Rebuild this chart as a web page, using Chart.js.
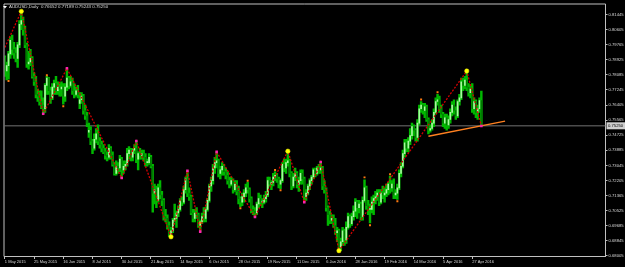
<!DOCTYPE html>
<html>
<head>
<meta charset="utf-8">
<script src="https://cdn.jsdelivr.net/npm/chart.js@4.4.0/dist/chart.umd.min.js"></script>
<style>
  html, body { margin: 0; padding: 0; background: #000; }
  canvas { display: block; }
</style>
</head>
<body>
<canvas id="myChart" width="625" height="267"></canvas>
<script>
// AUDUSD daily bars, 1 May 2015 .. 4 May 2016
var opens = [
  0.7905,0.7830,0.7860,0.7925,0.8000,0.7950,0.7930,0.7900,0.7975,0.8090,
  0.8110,0.8060,0.7975,0.7870,0.7880,0.7900,0.7800,0.7770,0.7700,0.7690,
  0.7660,0.7640,0.7620,0.7750,0.7790,0.7720,0.7680,0.7740,0.7760,0.7720,
  0.7740,0.7730,0.7740,0.7690,0.7740,0.7790,0.7750,0.7770,0.7720,0.7700,
  0.7720,0.7650,0.7670,0.7690,0.7610,0.7580,0.7490,0.7500,0.7440,0.7400,
  0.7450,0.7480,0.7440,0.7420,0.7400,0.7380,0.7360,0.7350,0.7400,0.7360,
  0.7310,0.7260,0.7300,0.7290,0.7340,0.7280,0.7300,0.7310,0.7370,0.7390,
  0.7350,0.7390,0.7400,0.7340,0.7370,0.7360,0.7370,0.7350,0.7320,0.7320,
  0.7350,0.7300,0.7150,0.7170,0.7110,0.7180,0.7140,0.7110,0.7020,0.7010,
  0.6970,0.6920,0.6940,0.7000,0.7010,0.7040,0.7060,0.7110,0.7100,0.7170,
  0.7230,0.7150,0.7130,0.7040,0.7010,0.7040,0.7030,0.6970,0.6990,0.7020,
  0.7010,0.7060,0.7110,0.7190,0.7220,0.7290,0.7320,0.7330,0.7260,0.7280,
  0.7300,0.7270,0.7250,0.7220,0.7200,0.7220,0.7170,0.7200,0.7160,0.7120,
  0.7100,0.7130,0.7150,0.7180,0.7170,0.7120,0.7060,0.7050,0.7040,0.7090,
  0.7120,0.7100,0.7100,0.7120,0.7140,0.7220,0.7200,0.7210,0.7240,0.7250,
  0.7230,0.7200,0.7220,0.7310,0.7290,0.7320,0.7330,0.7260,0.7190,0.7240,
  0.7260,0.7200,0.7220,0.7260,0.7230,0.7130,0.7150,0.7190,0.7220,0.7240,
  0.7280,0.7260,0.7290,0.7280,0.7290,0.7190,0.7170,0.7070,0.7030,0.7000,
  0.7010,0.6970,0.6930,0.6940,0.6850,0.6880,0.6940,0.6890,0.6960,0.7020,
  0.6980,0.7020,0.7050,0.7100,0.7070,0.7090,0.7020,0.7110,0.7180,0.7080,
  0.7060,0.7060,0.7100,0.7120,0.7130,0.7150,0.7100,0.7150,0.7140,0.7150,
  0.7170,0.7200,0.7180,0.7200,0.7140,0.7150,0.7180,0.7260,0.7300,0.7370,
  0.7430,0.7400,0.7440,0.7470,0.7520,0.7500,0.7460,0.7540,0.7620,0.7640,
  0.7610,0.7630,0.7560,0.7500,0.7510,0.7540,0.7600,0.7660,0.7670,0.7620,
  0.7590,0.7540,0.7570,0.7530,0.7560,0.7600,0.7640,0.7610,0.7580,0.7660,
  0.7680,0.7770,0.7750,0.7780,0.7740,0.7710,0.7730,0.7620,0.7660,0.7600,
  0.7620,0.76652
];
var highs = [
  0.7915,0.7880,0.7940,0.8020,0.8030,0.7990,0.7960,0.7990,0.8110,0.8162,
  0.8130,0.8080,0.7985,0.7940,0.7950,0.7910,0.7820,0.7800,0.7730,0.7720,
  0.7720,0.7680,0.7760,0.7800,0.7795,0.7740,0.7760,0.7780,0.7800,0.7770,
  0.7760,0.7770,0.7760,0.7760,0.7845,0.7800,0.7800,0.7790,0.7760,0.7740,
  0.7750,0.7710,0.7710,0.7700,0.7640,0.7600,0.7540,0.7520,0.7450,0.7480,
  0.7510,0.7530,0.7460,0.7440,0.7420,0.7400,0.7380,0.7420,0.7410,0.7380,
  0.7320,0.7330,0.7320,0.7360,0.7350,0.7330,0.7330,0.7400,0.7410,0.7400,
  0.7400,0.7420,0.7440,0.7380,0.7400,0.7390,0.7390,0.7370,0.7340,0.7370,
  0.7360,0.7310,0.7200,0.7190,0.7200,0.7220,0.7160,0.7120,0.7060,0.7030,
  0.6990,0.6960,0.7010,0.7090,0.7050,0.7080,0.7120,0.7130,0.7190,0.7240,
  0.7275,0.7180,0.7140,0.7060,0.7060,0.7070,0.7040,0.7000,0.7040,0.7070,
  0.7070,0.7120,0.7200,0.7240,0.7310,0.7350,0.7380,0.7340,0.7300,0.7320,
  0.7310,0.7290,0.7270,0.7240,0.7240,0.7230,0.7220,0.7220,0.7190,0.7130,
  0.7150,0.7170,0.7200,0.7210,0.7180,0.7130,0.7080,0.7070,0.7100,0.7150,
  0.7140,0.7120,0.7140,0.7160,0.7240,0.7240,0.7220,0.7260,0.7270,0.7260,
  0.7240,0.7230,0.7320,0.7340,0.7340,0.7384,0.7340,0.7270,0.7260,0.7290,
  0.7270,0.7240,0.7280,0.7280,0.7240,0.7170,0.7200,0.7230,0.7250,0.7290,
  0.7290,0.7300,0.7310,0.7323,0.7300,0.7220,0.7180,0.7080,0.7050,0.7030,
  0.7030,0.7010,0.6960,0.6950,0.6900,0.6960,0.6950,0.6990,0.7040,0.7030,
  0.7040,0.7080,0.7120,0.7110,0.7110,0.7100,0.7130,0.7225,0.7190,0.7110,
  0.7090,0.7130,0.7140,0.7160,0.7170,0.7170,0.7170,0.7190,0.7180,0.7200,
  0.7210,0.7245,0.7220,0.7230,0.7170,0.7200,0.7280,0.7320,0.7390,0.7450,
  0.7450,0.7460,0.7510,0.7540,0.7530,0.7510,0.7560,0.7640,0.7660,0.7650,
  0.7650,0.7640,0.7570,0.7530,0.7560,0.7620,0.7680,0.7700,0.7690,0.7640,
  0.7600,0.7590,0.7590,0.7580,0.7620,0.7660,0.7670,0.7630,0.7670,0.7700,
  0.7790,0.7790,0.7800,0.7830,0.7760,0.7750,0.7760,0.7680,0.7670,0.7640,
  0.7680,0.77189
];
var lows = [
  0.7800,0.7780,0.7785,0.7900,0.7920,0.7900,0.7880,0.7850,0.7960,0.8060,
  0.8030,0.7960,0.7850,0.7840,0.7860,0.7790,0.7750,0.7680,0.7660,0.7640,
  0.7620,0.7592,0.7600,0.7700,0.7700,0.7650,0.7670,0.7700,0.7700,0.7700,
  0.7690,0.7690,0.7645,0.7660,0.7720,0.7730,0.7740,0.7700,0.7680,0.7690,
  0.7680,0.7620,0.7650,0.7590,0.7560,0.7520,0.7460,0.7420,0.7370,0.7390,
  0.7430,0.7420,0.7400,0.7380,0.7370,0.7340,0.7330,0.7340,0.7340,0.7300,
  0.7250,0.7250,0.7260,0.7270,0.7234,0.7260,0.7280,0.7300,0.7340,0.7330,
  0.7330,0.7370,0.7320,0.7280,0.7340,0.7340,0.7330,0.7300,0.7300,0.7310,
  0.7290,0.7044,0.7090,0.7070,0.7100,0.7120,0.7080,0.7000,0.6990,0.6950,
  0.6910,0.6907,0.6930,0.6990,0.6960,0.7020,0.7050,0.7080,0.7090,0.7150,
  0.7130,0.7110,0.7030,0.6990,0.6990,0.7010,0.6960,0.6936,0.6980,0.6990,
  0.6990,0.7050,0.7100,0.7160,0.7200,0.7260,0.7290,0.7240,0.7230,0.7250,
  0.7250,0.7230,0.7200,0.7180,0.7190,0.7150,0.7160,0.7140,0.7090,0.7075,
  0.7080,0.7100,0.7130,0.7150,0.7100,0.7040,0.7030,0.7018,0.7030,0.7070,
  0.7080,0.7070,0.7090,0.7100,0.7130,0.7190,0.7170,0.7190,0.7220,0.7210,
  0.7180,0.7175,0.7210,0.7270,0.7260,0.7300,0.7240,0.7170,0.7180,0.7220,
  0.7180,0.7160,0.7200,0.7200,0.7100,0.7110,0.7140,0.7170,0.7200,0.7230,
  0.7240,0.7250,0.7260,0.7260,0.7170,0.7150,0.7050,0.6970,0.6980,0.6980,
  0.6960,0.6920,0.6880,0.6830,0.6830,0.6860,0.6860,0.6870,0.6950,0.6960,
  0.6970,0.7000,0.7020,0.7010,0.7040,0.7000,0.7000,0.7100,0.7060,0.7030,
  0.6985,0.7040,0.7030,0.7090,0.7110,0.7080,0.7090,0.7120,0.7100,0.7130,
  0.7140,0.7150,0.7160,0.7120,0.7120,0.7115,0.7170,0.7240,0.7290,0.7350,
  0.7380,0.7380,0.7420,0.7450,0.7470,0.7440,0.7440,0.7530,0.7600,0.7590,
  0.7570,0.7550,0.7480,0.7490,0.7500,0.7520,0.7590,0.7640,0.7600,0.7570,
  0.7520,0.7510,0.7500,0.7510,0.7540,0.7580,0.7590,0.7560,0.7570,0.7640,
  0.7670,0.7720,0.7730,0.7720,0.7690,0.7680,0.7600,0.7590,0.7570,0.7560,
  0.7600,0.75243
];
var closes = [
  0.7830,0.7860,0.7925,0.8000,0.7950,0.7930,0.7900,0.7975,0.8090,0.8110,
  0.8060,0.7975,0.7870,0.7880,0.7900,0.7800,0.7770,0.7700,0.7690,0.7660,
  0.7640,0.7620,0.7750,0.7790,0.7720,0.7680,0.7740,0.7760,0.7720,0.7740,
  0.7730,0.7740,0.7690,0.7740,0.7790,0.7750,0.7770,0.7720,0.7700,0.7720,
  0.7700,0.7670,0.7690,0.7610,0.7580,0.7540,0.7500,0.7440,0.7400,0.7450,
  0.7480,0.7440,0.7420,0.7400,0.7380,0.7360,0.7350,0.7400,0.7360,0.7310,
  0.7260,0.7300,0.7290,0.7340,0.7280,0.7300,0.7310,0.7370,0.7390,0.7350,
  0.7390,0.7400,0.7340,0.7370,0.7360,0.7370,0.7350,0.7320,0.7320,0.7350,
  0.7300,0.7150,0.7170,0.7110,0.7180,0.7140,0.7110,0.7020,0.7010,0.6970,
  0.6920,0.6940,0.7000,0.7010,0.7040,0.7060,0.7110,0.7100,0.7170,0.7230,
  0.7150,0.7130,0.7040,0.7010,0.7040,0.7030,0.6970,0.6990,0.7020,0.7010,
  0.7060,0.7110,0.7190,0.7220,0.7290,0.7320,0.7330,0.7260,0.7280,0.7300,
  0.7270,0.7250,0.7220,0.7200,0.7220,0.7170,0.7200,0.7160,0.7120,0.7100,
  0.7130,0.7150,0.7180,0.7170,0.7120,0.7060,0.7050,0.7040,0.7090,0.7120,
  0.7100,0.7100,0.7120,0.7140,0.7220,0.7200,0.7210,0.7240,0.7250,0.7230,
  0.7200,0.7220,0.7310,0.7290,0.7320,0.7330,0.7260,0.7190,0.7240,0.7260,
  0.7200,0.7220,0.7260,0.7230,0.7130,0.7150,0.7190,0.7220,0.7240,0.7280,
  0.7260,0.7290,0.7280,0.7290,0.7190,0.7170,0.7070,0.7030,0.7000,0.7010,
  0.6970,0.6930,0.6940,0.6850,0.6880,0.6940,0.6890,0.6960,0.7020,0.6980,
  0.7020,0.7050,0.7100,0.7070,0.7090,0.7020,0.7110,0.7180,0.7080,0.7060,
  0.7060,0.7100,0.7120,0.7130,0.7150,0.7100,0.7150,0.7140,0.7150,0.7170,
  0.7200,0.7180,0.7200,0.7140,0.7150,0.7180,0.7260,0.7300,0.7370,0.7430,
  0.7400,0.7440,0.7470,0.7520,0.7500,0.7460,0.7540,0.7620,0.7640,0.7610,
  0.7630,0.7560,0.7500,0.7510,0.7540,0.7600,0.7660,0.7670,0.7620,0.7590,
  0.7540,0.7570,0.7530,0.7560,0.7600,0.7640,0.7610,0.7580,0.7660,0.7680,
  0.7770,0.7750,0.7780,0.7740,0.7710,0.7730,0.7620,0.7660,0.7600,0.7620,
  0.7665,0.75250
];

// zigzag swing points (bar index, price)
var zzIdx   = [0, 9, 21, 34, 64, 72, 91, 100, 107, 116, 137, 155, 164, 173, 183, 253, 261];
var zzPrice = [0.7961, 0.8162, 0.7592, 0.7845, 0.7234, 0.7440, 0.6907, 0.7275, 0.6936, 0.7380, 0.7018, 0.7384, 0.7100, 0.7323, 0.6830, 0.7830, 0.75243];
// big yellow swing dots
var majorIdx   = [9, 91, 155, 183, 253];
var majorPrice = [0.8162, 0.6907, 0.7384, 0.6830, 0.7830];
// small magenta swing marks
var minorIdx   = [21, 34, 64, 72, 100, 107, 116, 137, 164, 173, 261];
var minorPrice = [0.7592, 0.7845, 0.7234, 0.7440, 0.7275, 0.6936, 0.7380, 0.7018, 0.7100, 0.7323, 0.75243];
// orange fractal marks
var fracIdx   = [2, 23, 32, 107, 129, 133, 148, 151, 197, 200, 211, 215, 228, 237];
var fracPrice = [0.7774, 0.7806, 0.7634, 0.6986, 0.7066, 0.7219, 0.7279, 0.7166, 0.7238, 0.6972, 0.7256, 0.7105, 0.7671, 0.7712];
// orange trend line
var trendIdx   = [232, 274];
var trendPrice = [0.7467, 0.7551];

var bidPrice = 0.75250;
var headerText = 'AUDUSD,Daily  0.76652 0.77189 0.75243 0.75250';

var xTickIdx = [0, 16, 32, 48, 64, 80, 96, 112, 128, 144, 160, 176, 192, 208, 224, 240, 256];
var xTickLabels = ['1 May 2015', '25 May 2015', '16 Jun 2015', '8 Jul 2015', '30 Jul 2015', '21 Aug 2015',
  '14 Sep 2015', '6 Oct 2015', '28 Oct 2015', '19 Nov 2015', '11 Dec 2015', '6 Jan 2016',
  '28 Jan 2016', '19 Feb 2016', '14 Mar 2016', '5 Apr 2016', '27 Apr 2016'];
var yTicks = [0.68005, 0.68845, 0.69685, 0.70525, 0.71365, 0.72205, 0.73045, 0.73885, 0.74725,
  0.75565, 0.76405, 0.77245, 0.78085, 0.78925, 0.79765, 0.80605, 0.81445];

function pts(xs, ys) {
  return xs.map(function (x, i) { return {x: x, y: ys[i]}; });
}

var wickData = [], bodyData = [], bodyColors = [];
for (var i = 0; i < closes.length; i++) {
  wickData.push({x: i, y: [lows[i], highs[i]]});
  bodyData.push({x: i, y: [opens[i], closes[i]]});
  bodyColors.push(closes[i] >= opens[i] ? '#a8f8a0' : '#007c00');
}

var textColor = '#d8d8d8';
var axisColor = '#c0c0c0';
var smallFont = {family: 'Liberation Sans', size: 4.2};

var mt4Decor = {
  id: 'mt4Decor',
  beforeDraw: function (chart) {
    var c = chart.ctx;
    c.save();
    c.fillStyle = '#000';
    c.fillRect(0, 0, chart.width, chart.height);
    c.restore();
  },
  afterDraw: function (chart) {
    var c = chart.ctx, a = chart.chartArea, y = chart.scales.y;
    c.save();
    // frame top / left
    c.strokeStyle = axisColor;
    c.lineWidth = 1;
    c.beginPath();
    c.moveTo(a.left - 0.5, a.bottom);
    c.lineTo(a.left - 0.5, a.top - 0.5);
    c.lineTo(a.right, a.top - 0.5);
    c.stroke();
    // header
    c.fillStyle = '#ffffff';
    c.beginPath();
    c.moveTo(3, 6); c.lineTo(7, 6); c.lineTo(5, 8.5); c.closePath();
    c.fill();
    c.fillStyle = textColor;
    c.font = '4.4px "Liberation Sans"';
    c.textBaseline = 'middle';
    c.fillText(headerText, 9, 6.5);
    // bid price box
    var py = y.getPixelForValue(bidPrice);
    c.fillStyle = '#d0d0d0';
    c.fillRect(a.right + 1, py - 3.5, 625 - a.right - 1, 7);
    c.fillStyle = '#000';
    c.font = '4.2px "Liberation Sans"';
    c.fillText(bidPrice.toFixed(5), a.right + 2.5, py);
    c.restore();
  }
};

var ctx = document.getElementById('myChart');
var myChart = new Chart(ctx, {
  type: 'bar',
  data: {
    datasets: [
      {
        type: 'line', label: 'zigzag', order: 1,
        data: pts(zzIdx, zzPrice),
        borderColor: '#d40000', borderWidth: 1.3, borderDash: [2, 1.5],
        pointRadius: 0, fill: false, tension: 0
      },
      {
        type: 'line', label: 'major', order: 0, showLine: false,
        data: pts(majorIdx, majorPrice),
        pointStyle: 'circle', pointRadius: 2.2,
        pointBackgroundColor: '#ffff00', pointBorderColor: '#e0e000', pointBorderWidth: 0.5
      },
      {
        type: 'line', label: 'minor', order: 0, showLine: false,
        data: pts(minorIdx, minorPrice),
        pointStyle: 'rect', pointRadius: 1.8,
        pointBackgroundColor: '#ff20b0', pointBorderWidth: 0
      },
      {
        type: 'line', label: 'fractals', order: 0, showLine: false,
        data: pts(fracIdx, fracPrice),
        pointStyle: 'rect', pointRadius: 1.4,
        pointBackgroundColor: '#ff7a10', pointBorderWidth: 0
      },
      {
        type: 'line', label: 'trend', order: 1,
        data: pts(trendIdx, trendPrice),
        borderColor: '#ff8020', borderWidth: 1.4,
        pointRadius: 0, fill: false
      },
      {
        label: 'body', order: 2, grouped: false,
        data: bodyData, backgroundColor: bodyColors,
        barThickness: 1, minBarLength: 1
      },
      {
        label: 'wick', order: 3, grouped: false,
        data: wickData, backgroundColor: '#00b800',
        barThickness: 1.8
      },
      {
        type: 'line', label: 'bid', order: 4,
        data: [{x: -0.2, y: bidPrice}, {x: 329, y: bidPrice}],
        borderColor: '#4c4c4c', borderWidth: 1.6,
        pointRadius: 0, fill: false
      }
    ]
  },
  options: {
    responsive: false,
    devicePixelRatio: 1,
    animation: false,
    events: [],
    layout: { padding: { left: 2, top: 4, right: 0, bottom: 0 } },
    plugins: { legend: { display: false }, tooltip: { enabled: false } },
    scales: {
      x: {
        type: 'linear', min: -0.2, max: 329, offset: false,
        afterBuildTicks: function (axis) {
          axis.ticks = xTickIdx.map(function (v) { return {value: v}; });
        },
        afterFit: function (axis) { axis.height = 10.5; },
        ticks: {
          autoSkip: false, maxRotation: 0, minRotation: 0, align: 'start', padding: 0,
          color: textColor, font: {family: 'Liberation Sans', size: 4},
          callback: function (v, i) { return xTickLabels[i]; }
        },
        grid: { offset: false, drawOnChartArea: false, drawTicks: true, tickLength: 2.5, color: axisColor },
        border: { display: true, color: axisColor, width: 1 }
      },
      y: {
        position: 'right', min: 0.67977, max: 0.82, beginAtZero: false,
        afterBuildTicks: function (axis) {
          axis.ticks = yTicks.map(function (v) { return {value: v}; });
        },
        afterFit: function (axis) { axis.width = 19.5; },
        ticks: {
          autoSkip: false, padding: 1, color: textColor, font: smallFont,
          callback: function (v) { return Number(v).toFixed(5); }
        },
        grid: { drawOnChartArea: false, drawTicks: true, tickLength: 2, color: axisColor },
        border: { display: true, color: axisColor, width: 1 }
      }
    }
  },
  plugins: [mt4Decor]
});
</script>
</body>
</html>
